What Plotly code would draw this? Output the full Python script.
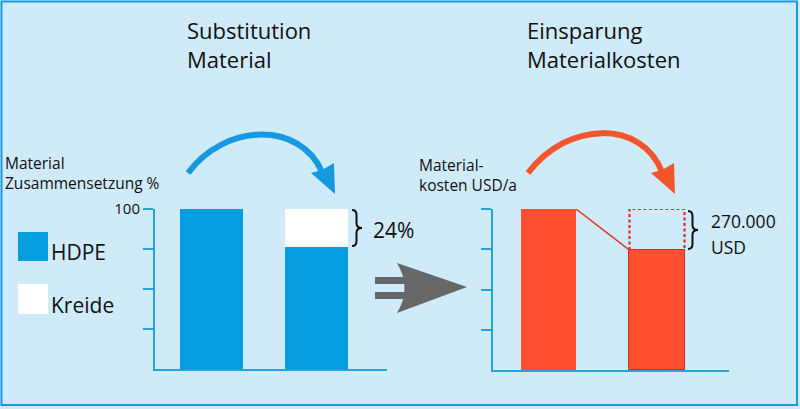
import plotly.graph_objects as go

W, H = 800, 409

# ---------------- data ----------------
material_positions = [0, 1]           # before / after substitution
hdpe_share = [100, 76]                 # % HDPE
kreide_share = [0, 24]                 # % chalk (Kreide)
material_ticks = [25, 50, 75, 100]
material_ticktext = ["", "", "", "100"]

cost_positions = [0, 1]
material_cost = [100, 74.5]            # relative material cost (USD/a)
cost_ticks = [25, 50, 75, 100]

BG = "#cfeaf8"
BLUE = "#069de0"
RED = "#ff4f30"
AXIS = "#27a3d8"
FONT = "Open Sans"


def px(x):
    return x / W


def py(y):
    return 1 - y / H


def pt(x, y):
    return f"{px(x):.5f},{py(y):.5f}"


fig = go.Figure()

w_left = 0.6
w_right = 0.507

# left chart
fig.add_trace(go.Bar(x=material_positions, y=hdpe_share, width=w_left,
                     marker=dict(color=BLUE, line=dict(width=0)),
                     xaxis="x", yaxis="y", showlegend=False))
fig.add_trace(go.Bar(x=material_positions, y=kreide_share, width=w_left,
                     marker=dict(color="white", line=dict(width=0)),
                     xaxis="x", yaxis="y", showlegend=False))

# right chart
fig.add_trace(go.Bar(x=cost_positions, y=material_cost, width=w_right,
                     marker=dict(color=RED, line=dict(width=[0, 1.5], color="#d32f1e")),
                     xaxis="x2", yaxis="y2", showlegend=False))
# connecting line (top right of bar 1 to top left of bar 2)
fig.add_trace(go.Scatter(x=[cost_positions[0] + w_right / 2, cost_positions[1] - w_right / 2],
                         y=[material_cost[0], material_cost[1]],
                         mode="lines", line=dict(color="#e23a26", width=1.5),
                         xaxis="x2", yaxis="y2", showlegend=False, hoverinfo="skip"))
# dotted outline of saved cost
xl = cost_positions[1] - w_right / 2
xr = cost_positions[1] + w_right / 2
fig.add_trace(go.Scatter(x=[xl, xl, xr, xr], y=[material_cost[1], material_cost[0], material_cost[0], material_cost[1]],
                         mode="lines", line=dict(color="#d8302a", width=2.2, dash="3px,2.5px"),
                         xaxis="x2", yaxis="y2", showlegend=False, hoverinfo="skip"))

axis_common = dict(showgrid=False, zeroline=False, showline=True, linecolor=AXIS, linewidth=2,
                   automargin=False, fixedrange=True)

fig.update_layout(
    width=W, height=H,
    margin=dict(l=0, r=0, t=0, b=0, pad=0, autoexpand=False),
    showlegend=False,
    paper_bgcolor=BG, plot_bgcolor="rgba(0,0,0,0)",
    barmode="stack", bargap=0,
    font=dict(family=FONT, color="#111111"),
    xaxis=dict(domain=[px(155), px(387)], range=[-0.538, 1.671], showticklabels=False,
               ticks="", anchor="y", **axis_common),
    yaxis=dict(domain=[py(369), py(209)], range=[0, 100], tickvals=material_ticks,
               ticktext=material_ticktext, ticks="outside", ticklen=10, tickwidth=2,
               tickcolor=AXIS, tickfont=dict(size=15, color="#111111", family=FONT),
               anchor="x", **axis_common),
    xaxis2=dict(domain=[px(493), px(729)], range=[-0.5115, 1.6636], showticklabels=False,
                ticks="", anchor="y2", **axis_common),
    yaxis2=dict(domain=[py(370), py(209)], range=[0, 100], tickvals=cost_ticks,
                showticklabels=False, ticks="outside", ticklen=10, tickwidth=2,
                tickcolor=AXIS, anchor="x2", **axis_common),
)

shapes = []
# border
shapes.append(dict(type="rect", xref="paper", yref="paper", x0=px(1.5), x1=px(797), y0=py(405), y1=py(1.5),
                   line=dict(color="#1a9ad8", width=2), fillcolor="rgba(0,0,0,0)", layer="below"))
# legend squares
shapes.append(dict(type="rect", xref="paper", yref="paper", x0=px(18), x1=px(48), y0=py(261), y1=py(232),
                   line=dict(width=0), fillcolor=BLUE))
shapes.append(dict(type="rect", xref="paper", yref="paper", x0=px(18), x1=px(48), y0=py(314), y1=py(284),
                   line=dict(width=0), fillcolor="white"))


def brace(x0, y0, y1, w):
    xm = x0 + w * 0.45
    ym = (y0 + y1) / 2
    r = 5
    return (f"M {pt(x0, y0)} Q {pt(xm, y0)} {pt(xm, y0 + r)} L {pt(xm, ym - r)} "
            f"Q {pt(xm, ym)} {pt(x0 + w, ym)} Q {pt(xm, ym)} {pt(xm, ym + r)} "
            f"L {pt(xm, y1 - r)} Q {pt(xm, y1)} {pt(x0, y1)}")


shapes.append(dict(type="path", xref="paper", yref="paper", path=brace(352, 210, 246, 10),
                   line=dict(color="#111111", width=2)))
shapes.append(dict(type="path", xref="paper", yref="paper", path=brace(688, 211, 249, 10),
                   line=dict(color="#111111", width=2)))

# curved arrows
shapes.append(dict(type="path", xref="paper", yref="paper",
                   path=f"M {pt(188, 173)} C {pt(225, 123)} {pt(300, 121)} {pt(322, 172)}",
                   line=dict(color="#1699de", width=6)))
shapes.append(dict(type="path", xref="paper", yref="paper",
                   path=f"M {pt(335, 194)} L {pt(311, 173)} L {pt(322, 170)} L {pt(334, 163)} Z",
                   line=dict(width=0), fillcolor="#1699de"))
shapes.append(dict(type="path", xref="paper", yref="paper",
                   path=f"M {pt(528, 173)} C {pt(568, 120)} {pt(642, 120)} {pt(662, 172)}",
                   line=dict(color="#f4552c", width=6)))
shapes.append(dict(type="path", xref="paper", yref="paper",
                   path=f"M {pt(675, 194)} L {pt(651, 173)} L {pt(662, 170)} L {pt(674, 163)} Z",
                   line=dict(width=0), fillcolor="#f4552c"))

# grey double arrow
GREY = "#676767"
shapes.append(dict(type="rect", xref="paper", yref="paper", x0=px(375), x1=px(412), y0=py(284), y1=py(277),
                   line=dict(width=0), fillcolor=GREY))
shapes.append(dict(type="rect", xref="paper", yref="paper", x0=px(375), x1=px(412), y0=py(299), y1=py(292),
                   line=dict(width=0), fillcolor=GREY))
shapes.append(dict(type="path", xref="paper", yref="paper",
                   path=f"M {pt(397, 263)} L {pt(467, 287)} L {pt(397, 313)} Q {pt(412, 288)} {pt(397, 263)} Z",
                   line=dict(width=0), fillcolor=GREY))

fig.update_layout(shapes=shapes)


def label(text, x, y, size, anchor="left"):
    return dict(text=text, x=px(x), y=py(y), xref="paper", yref="paper", xanchor=anchor,
                yanchor="middle", align="left", showarrow=False, borderpad=0,
                font=dict(size=size, family=FONT, color="#111111"))


annotations = [
    label("Substitution<br>Material", 186, 44.5, 22),
    label("Einsparung<br>Materialkosten", 526, 44.5, 22),
    label("Material<br>Zusammensetzung %", 4, 173, 15.5),
    label("Material-<br>kosten USD/a", 418, 175, 15.5),
    label("HDPE", 50, 252, 21),
    label("Kreide", 50, 305, 21),
    label("24%", 372, 230, 21),
    label("270.000", 710, 221, 17.5),
    label("USD", 710, 247, 17.5),
]
fig.update_layout(annotations=annotations)

fig.write_html("out.html", config={"displayModeBar": False})
